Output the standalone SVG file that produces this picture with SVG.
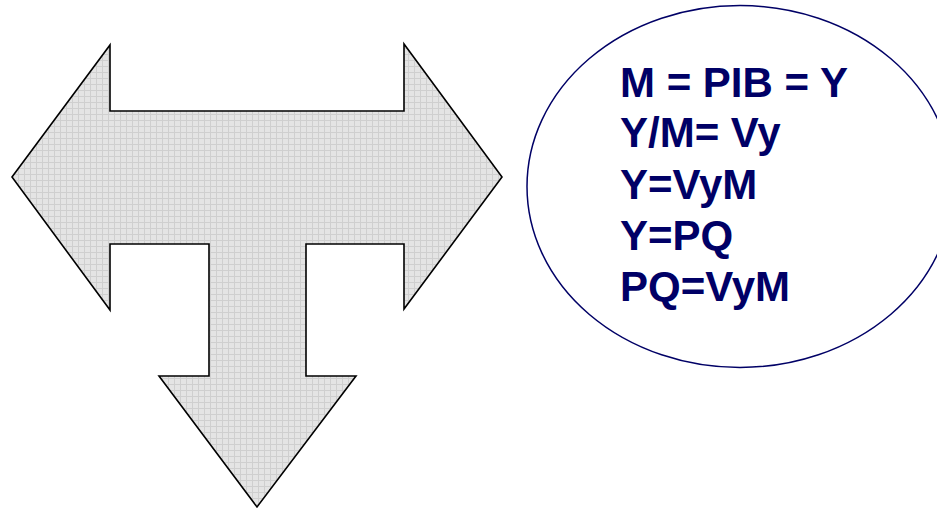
<svg xmlns="http://www.w3.org/2000/svg" width="937" height="509" viewBox="0 0 937 509">
<defs>
<pattern id="grid" width="6" height="6" patternUnits="userSpaceOnUse">
<rect width="6" height="6" fill="#e4e4e4"/>
<path d="M0 0.5H6M0.5 0V6" stroke="#cfcfcf" stroke-width="1"/>
</pattern>
<style>
.arrow{fill:url(#grid);stroke:#000;stroke-width:1.6;stroke-linejoin:miter}
.ell{fill:#fff;stroke:#000066;stroke-width:1.5}
.eq{font-family:"Liberation Sans",Arial,sans-serif;font-weight:bold;font-size:42px;fill:#000066}
</style>
</defs>
<rect width="937" height="509" fill="#fff"/>
<g id="arrow">
<polygon class="arrow" points="12,177 110,45 110,111 404,111 404,44 502,177 404,309 404,244 306,244 306,376 356,376 257,507 159,376 209,376 209,244 110,244 110,310"/>
</g>
<g id="formulas">
<ellipse class="ell" cx="740" cy="186.5" rx="213" ry="181"/>
<text class="eq" x="620" y="97">M = PIB = Y</text>
<text class="eq" x="620" y="147">Y/M= Vy</text>
<text class="eq" x="620" y="199">Y=VyM</text>
<text class="eq" x="620" y="250">Y=PQ</text>
<text class="eq" x="620" y="301">PQ=VyM</text>
</g>
<g id="connectors"/>
</svg>
